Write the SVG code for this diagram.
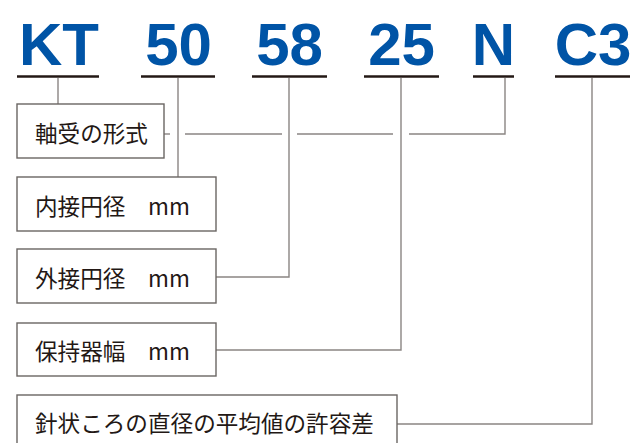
<svg xmlns="http://www.w3.org/2000/svg" width="633" height="443" viewBox="0 0 633 443">
<style>
.code{font-family:"Liberation Sans",Arial,sans-serif;font-weight:bold;font-size:60px;fill:#0054a6;text-anchor:middle}
.ul{stroke:#231815;stroke-width:2.5;fill:none}
.box{fill:#fff;stroke:#6a6563;stroke-width:1.4}
.lbl{font-family:"Noto Sans CJK JP","Noto Sans",sans-serif;font-size:22.6px;fill:#231815;dominant-baseline:central}
.ln{stroke:#8a8583;stroke-width:1.4;fill:none}
</style>
<rect width="633" height="443" fill="#fff"/>
<g id="code">
<text class="code" x="59" y="65">KT</text>
<text class="code" x="178.5" y="65">50</text>
<text class="code" x="289.5" y="65">58</text>
<text class="code" x="401.5" y="65">25</text>
<text class="code" x="493.5" y="65">N</text>
<text class="code" x="593" y="65">C3</text>
<line class="ul" x1="17" y1="76.5" x2="99" y2="76.5"/>
<line class="ul" x1="141" y1="76.5" x2="215" y2="76.5"/>
<line class="ul" x1="252" y1="76.5" x2="327" y2="76.5"/>
<line class="ul" x1="364" y1="76.5" x2="439" y2="76.5"/>
<line class="ul" x1="473" y1="76.5" x2="514" y2="76.5"/>
<line class="ul" x1="555" y1="76.5" x2="630" y2="76.5"/>
</g>
<g id="connectors">
<line class="ln" x1="58" y1="78" x2="58" y2="104"/>
<line class="ln" x1="178" y1="78" x2="178" y2="177"/>
<polyline class="ln" points="289,78 289,277 216,277"/>
<polyline class="ln" points="401,78 401,350 216,350"/>
<polyline class="ln" points="592,78 592,424 397,424"/>
<polyline class="ln" points="409,134 505,134 505,78"/>
<line class="ln" x1="164" y1="134" x2="170" y2="134"/>
<line class="ln" x1="185" y1="134" x2="282" y2="134"/>
<line class="ln" x1="297" y1="134" x2="393" y2="134"/>
</g>
<g id="n1">
<rect class="box" x="17" y="104" width="147" height="54"/>
<text class="lbl" x="35" y="132">軸受の形式</text>
</g>
<g id="n2">
<rect class="box" x="17" y="177" width="199" height="54"/>
<text class="lbl" x="35" y="205">内接円径　mm</text>
</g>
<g id="n3">
<rect class="box" x="17" y="249" width="199" height="54"/>
<text class="lbl" x="35" y="277">外接円径　mm</text>
</g>
<g id="n4">
<rect class="box" x="17" y="323" width="199" height="53"/>
<text class="lbl" x="35" y="350">保持器幅　mm</text>
</g>
<g id="n5">
<rect class="box" x="17" y="395" width="380" height="60"/>
<text class="lbl" x="35" y="422">針状ころの直径の平均値の許容差</text>
</g>
</svg>
